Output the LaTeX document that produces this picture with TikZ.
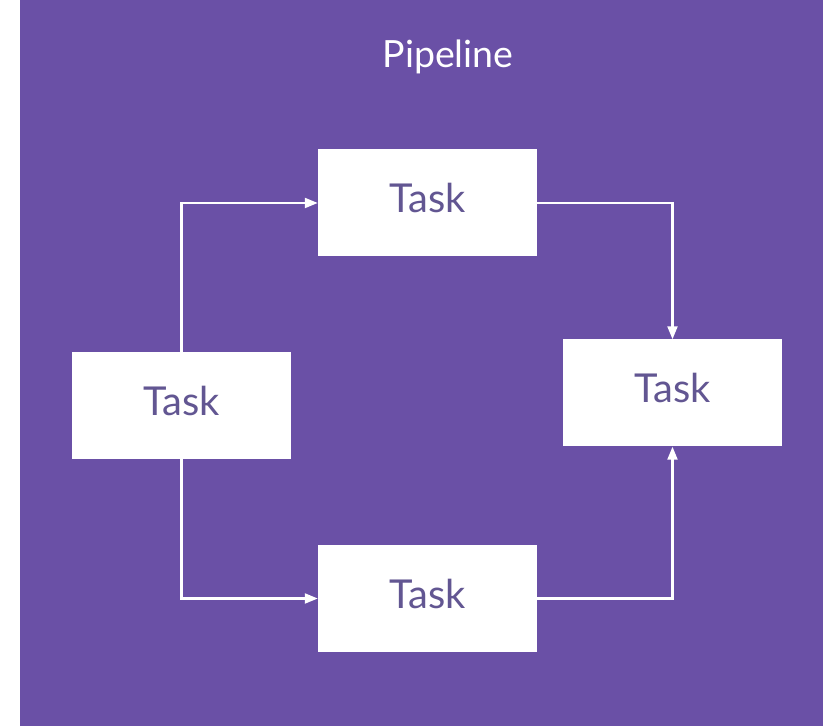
\documentclass[tikz,border=0pt]{standalone}
\usepackage{fontspec}
\setmainfont{Lato}
\usetikzlibrary{arrows.meta}
\definecolor{pipebg}{RGB}{106,80,166}
\definecolor{tasktxt}{RGB}{98,86,146}
\tikzstyle{task}=[rectangle,fill=white,minimum width=65.7mm,minimum height=32.1mm,inner sep=0pt,text depth=3mm,text=tasktxt,font=\fontsize{34}{40}\selectfont]
\tikzstyle{flow}=[draw=white,line width=0.65mm,-{Triangle[length=3.9mm,width=3mm]}]
\begin{document}
\begin{tikzpicture}[x=0.3mm,y=0.3mm]
\useasboundingbox (0,0) rectangle (823,727);
\fill[pipebg] (20,1) rectangle (823,727);
\node[text=white,font=\fontsize{32}{38}\selectfont] (title) at (448,670) {Pipeline};
\node[task] (first) at (181.5,321.5) {Task};
\node[task] (upper) at (427.5,524) {Task};
\node[task] (lower) at (427.5,128.5) {Task};
\node[task] (last) at (672.5,334) {Task};
\draw[flow] (first.north) |- (upper.west);
\draw[flow] (first.south) |- (lower.west);
\draw[flow] (upper.east) -| (last.north);
\draw[flow] (lower.east) -| (last.south);
\end{tikzpicture}
\end{document}
